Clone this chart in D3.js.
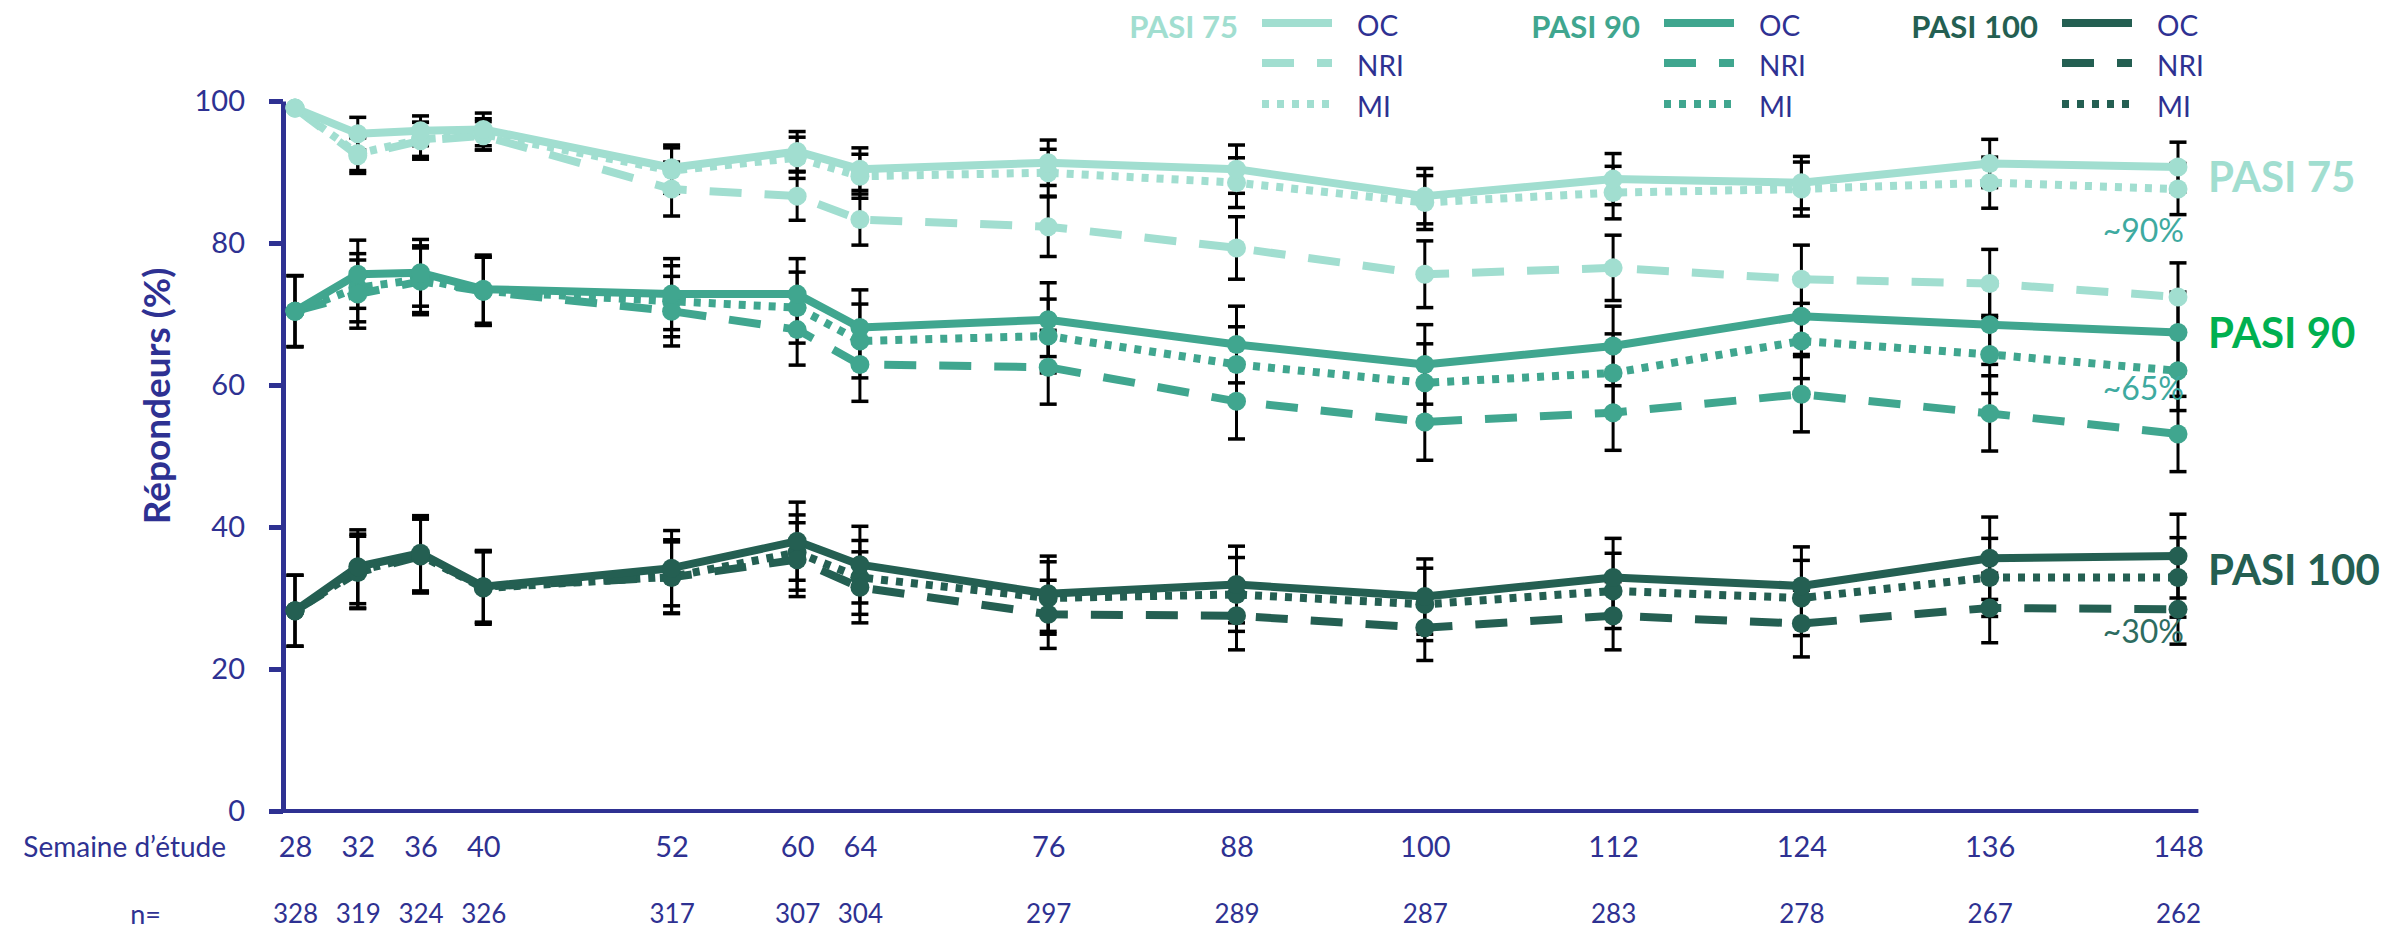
<!DOCTYPE html>
<html>
<head>
<meta charset="utf-8">
<script src="https://cdn.jsdelivr.net/npm/d3@7"></script>
<style>
  html, body { margin: 0; padding: 0; background: #ffffff; }
  svg { display: block; }
  text { font-family: Lato, "Open Sans", "Liberation Sans", sans-serif; }
</style>
</head>
<body>
<svg id="chart" width="2400" height="929"></svg>
<script>
// ---- Data -------------------------------------------------------------
const weeks   = [28, 32, 36, 40, 52, 60, 64, 76, 88, 100, 112, 124, 136, 148];
const nCounts = [328, 319, 324, 326, 317, 307, 304, 297, 289, 287, 283, 278, 267, 262];
const yTicks  = [0, 20, 40, 60, 80, 100];

// Responder rates (%) per analysis method
const pasi75OC  = [99.0, 95.4, 95.8, 96.0, 90.6, 92.9, 90.4, 91.3, 90.4, 86.6, 89.0, 88.5, 91.2, 90.7];
const pasi75NRI = [99.0, 92.3, 94.4, 95.1, 87.6, 86.6, 83.3, 82.3, 79.3, 75.6, 76.5, 74.9, 74.3, 72.4];
const pasi75MI  = [99.0, 92.6, 94.6, 95.3, 90.2, 92.0, 89.4, 89.9, 88.5, 85.7, 87.1, 87.6, 88.5, 87.6];

const pasi90OC  = [70.4, 75.6, 75.8, 73.5, 72.8, 72.8, 68.1, 69.2, 65.7, 62.9, 65.5, 69.7, 68.5, 67.4];
const pasi90NRI = [70.4, 72.8, 74.6, 73.2, 70.4, 67.8, 62.9, 62.5, 57.7, 54.8, 56.1, 58.7, 56.0, 53.1];
const pasi90MI  = [70.4, 73.7, 74.9, 73.2, 71.8, 70.9, 66.2, 66.9, 62.9, 60.3, 61.7, 66.2, 64.3, 62.0];

const pasi100OC  = [28.2, 34.4, 36.3, 31.6, 34.2, 38.0, 34.7, 30.6, 31.9, 30.2, 32.9, 31.7, 35.6, 35.9];
const pasi100NRI = [28.2, 33.6, 35.9, 31.6, 32.9, 35.4, 31.5, 27.7, 27.5, 25.8, 27.5, 26.4, 28.6, 28.4];
const pasi100MI  = [28.2, 33.8, 36.0, 31.4, 33.0, 36.4, 32.9, 30.0, 30.5, 29.1, 31.0, 30.0, 32.9, 32.9];

// 95% CI half-widths (percentage points)
const pasi75OCci  = [0, 2.3, 2.1, 2.3, 3.2, 2.8, 3.0, 3.2, 3.4, 3.9, 3.6, 3.7, 3.4, 3.5];
const pasi75NRIci = [0, 2.5, 2.6, 2.0, 3.8, 3.4, 3.6, 4.2, 4.4, 4.7, 4.6, 4.8, 4.8, 4.8];
const pasi75MIci  = [0, 2.4, 2.4, 2.2, 3.2, 2.9, 3.1, 3.3, 3.5, 3.8, 3.7, 3.8, 3.6, 3.6];

const pasi90OCci  = [5.0, 4.8, 4.7, 4.8, 5.0, 5.0, 5.3, 5.2, 5.4, 5.6, 5.6, 5.4, 5.6, 5.7];
const pasi90NRIci = [5.0, 4.8, 4.7, 4.8, 4.9, 5.0, 5.2, 5.2, 5.3, 5.4, 5.3, 5.3, 5.3, 5.3];
const pasi90MIci  = [5.0, 4.8, 4.7, 4.8, 5.0, 5.0, 5.2, 5.2, 5.3, 5.5, 5.5, 5.3, 5.5, 5.6];

const pasi100OCci  = [5.0, 5.2, 5.3, 5.1, 5.3, 5.5, 5.4, 5.3, 5.4, 5.3, 5.5, 5.5, 5.8, 5.9];
const pasi100NRIci = [5.0, 5.1, 5.2, 5.0, 5.0, 5.2, 5.0, 4.8, 4.8, 4.6, 4.8, 4.7, 4.9, 4.9];
const pasi100MIci  = [5.0, 5.2, 5.2, 5.1, 5.2, 5.3, 5.2, 5.1, 5.2, 5.1, 5.3, 5.3, 5.5, 5.6];

const groupNames  = ["PASI 75", "PASI 90", "PASI 100"];
const methodNames = ["OC", "NRI", "MI"];
const endNotes    = ["~90%", "~65%", "~30%"];

// ---- Styles -----------------------------------------------------------
const navy        = "#2e3192";
const groupColors = ["#a1ded0", "#40a68f", "#245f52"];
const labelColors = ["#a1ded0", "#00b050", "#245f52"];
const noteColors  = ["#3eaaa0", "#3eaaa0", "#2d6c60"];
const dashes      = [null, "32,23", "7,8"];

const seriesTable = [
  { group: 0, method: 2, values: pasi75MI,  half: pasi75MIci },
  { group: 0, method: 1, values: pasi75NRI, half: pasi75NRIci },
  { group: 0, method: 0, values: pasi75OC,  half: pasi75OCci },
  { group: 1, method: 2, values: pasi90MI,  half: pasi90MIci },
  { group: 1, method: 1, values: pasi90NRI, half: pasi90NRIci },
  { group: 1, method: 0, values: pasi90OC,  half: pasi90OCci },
  { group: 2, method: 2, values: pasi100MI,  half: pasi100MIci },
  { group: 2, method: 1, values: pasi100NRI, half: pasi100NRIci },
  { group: 2, method: 0, values: pasi100OC,  half: pasi100OCci }
];

// ---- Scales -----------------------------------------------------------
const svg = d3.select("#chart");
const x = d3.scaleLinear().domain([weeks[0], weeks[weeks.length - 1]]).range([295, 2178]);
const y = d3.scaleLinear().domain([0, 100]).range([811, 101]);
const yAxisX = 283;

// ---- Axes -------------------------------------------------------------
const gy = svg.append("g")
  .attr("transform", `translate(${yAxisX},0)`)
  .call(d3.axisLeft(y).tickValues(yTicks).tickSize(14).tickSizeOuter(0).tickPadding(24));
gy.select(".domain").attr("stroke", navy).attr("stroke-width", 5);
gy.selectAll(".tick line").attr("stroke", navy).attr("stroke-width", 5);
gy.selectAll(".tick text").attr("fill", navy).style("font-size", "29px");

// x baseline
svg.append("line")
  .attr("x1", yAxisX - 2.5).attr("x2", x(149.3))
  .attr("y1", y(0)).attr("y2", y(0))
  .attr("stroke", navy).attr("stroke-width", 4);

const gx = svg.append("g")
  .attr("transform", `translate(0,${y(0)})`)
  .call(d3.axisBottom(x).tickValues(weeks).tickSize(0).tickPadding(25));
gx.select(".domain").remove();
gx.selectAll(".tick text").attr("fill", navy).style("font-size", "29px");

const gn = svg.append("g")
  .attr("transform", `translate(0,${y(0)})`)
  .call(d3.axisBottom(x).tickValues(weeks).tickSize(0).tickPadding(94)
    .tickFormat((d, i) => nCounts[i]));
gn.select(".domain").remove();
gn.selectAll(".tick text").attr("fill", navy).style("font-size", "26px");

svg.append("text")
  .attr("x", 226).attr("y", 857)
  .attr("text-anchor", "end")
  .attr("fill", navy).style("font-size", "28px")
  .text("Semaine d\u2019étude");

svg.append("text")
  .attr("x", 161).attr("y", 924)
  .attr("text-anchor", "end")
  .attr("fill", navy).style("font-size", "27px")
  .text("n=");

svg.append("text")
  .attr("transform", "translate(170,396) rotate(-90)")
  .attr("text-anchor", "middle")
  .attr("fill", navy).style("font-size", "37px").style("font-weight", "bold")
  .text("Répondeurs (%)");

// ---- Error bars -------------------------------------------------------
const barLayer = svg.append("g");
const capHalf = 8.5;
seriesTable.forEach(s => {
  const pts = weeks.map((w, i) => ({ w, v: s.values[i], h: s.half[i] })).filter(p => p.h > 0);
  const g = barLayer.append("g").attr("stroke", "#000");
  g.selectAll("line.stem").data(pts).join("line")
    .attr("class", "stem")
    .attr("x1", p => x(p.w)).attr("x2", p => x(p.w))
    .attr("y1", p => y(p.v - p.h)).attr("y2", p => y(p.v + p.h))
    .attr("stroke-width", 3);
  g.selectAll("line.capTop").data(pts).join("line")
    .attr("class", "capTop")
    .attr("x1", p => x(p.w) - capHalf).attr("x2", p => x(p.w) + capHalf)
    .attr("y1", p => y(p.v + p.h)).attr("y2", p => y(p.v + p.h))
    .attr("stroke-width", 3.5);
  g.selectAll("line.capBot").data(pts).join("line")
    .attr("class", "capBot")
    .attr("x1", p => x(p.w) - capHalf).attr("x2", p => x(p.w) + capHalf)
    .attr("y1", p => y(p.v - p.h)).attr("y2", p => y(p.v - p.h))
    .attr("stroke-width", 3.5);
});

// ---- Lines ------------------------------------------------------------
const line = d3.line().x(d => x(d[0])).y(d => y(d[1]));
const lineLayer = svg.append("g");
seriesTable.forEach(s => {
  lineLayer.append("path")
    .datum(weeks.map((w, i) => [w, s.values[i]]))
    .attr("d", line)
    .attr("fill", "none")
    .attr("stroke", groupColors[s.group])
    .attr("stroke-width", 8)
    .attr("stroke-linejoin", "round")
    .attr("stroke-dasharray", dashes[s.method]);
});

// ---- Markers ----------------------------------------------------------
const dotLayer = svg.append("g");
seriesTable.forEach(s => {
  dotLayer.append("g").selectAll("circle")
    .data(weeks.map((w, i) => [w, s.values[i]]))
    .join("circle")
    .attr("cx", d => x(d[0])).attr("cy", d => y(d[1]))
    .attr("r", 9.5)
    .attr("fill", groupColors[s.group]);
});

// ---- End labels -------------------------------------------------------
const endLabelY = [192, 348, 585];
const endNoteY  = [242, 400, 643];
groupNames.forEach((name, g) => {
  svg.append("text")
    .attr("x", x(148) + 30).attr("y", endLabelY[g])
    .attr("fill", labelColors[g])
    .style("font-size", "42px").style("font-weight", "bold")
    .text(name);
  svg.append("text")
    .attr("x", x(148) + 6).attr("y", endNoteY[g])
    .attr("text-anchor", "end")
    .attr("fill", noteColors[g])
    .style("font-size", "32px")
    .text(endNotes[g]);
});

// ---- Legend -----------------------------------------------------------
const legendSampleX = [1262, 1664, 2062];
const legendRowY = [23, 63, 104];
groupNames.forEach((name, g) => {
  const sx = legendSampleX[g];
  const lg = svg.append("g");
  lg.append("text")
    .attr("x", sx - 24).attr("y", 38)
    .attr("text-anchor", "end")
    .attr("fill", groupColors[g])
    .style("font-size", "31px").style("font-weight", "bold")
    .text(name);
  methodNames.forEach((m, k) => {
    lg.append("line")
      .attr("x1", sx).attr("x2", sx + 70)
      .attr("y1", legendRowY[k]).attr("y2", legendRowY[k])
      .attr("stroke", groupColors[g]).attr("stroke-width", 8)
      .attr("stroke-dasharray", dashes[k]);
    lg.append("text")
      .attr("x", sx + 95).attr("y", legendRowY[k] + 13)
      .attr("fill", navy)
      .style("font-size", "28px")
      .text(m);
  });
});
</script>
</body>
</html>
